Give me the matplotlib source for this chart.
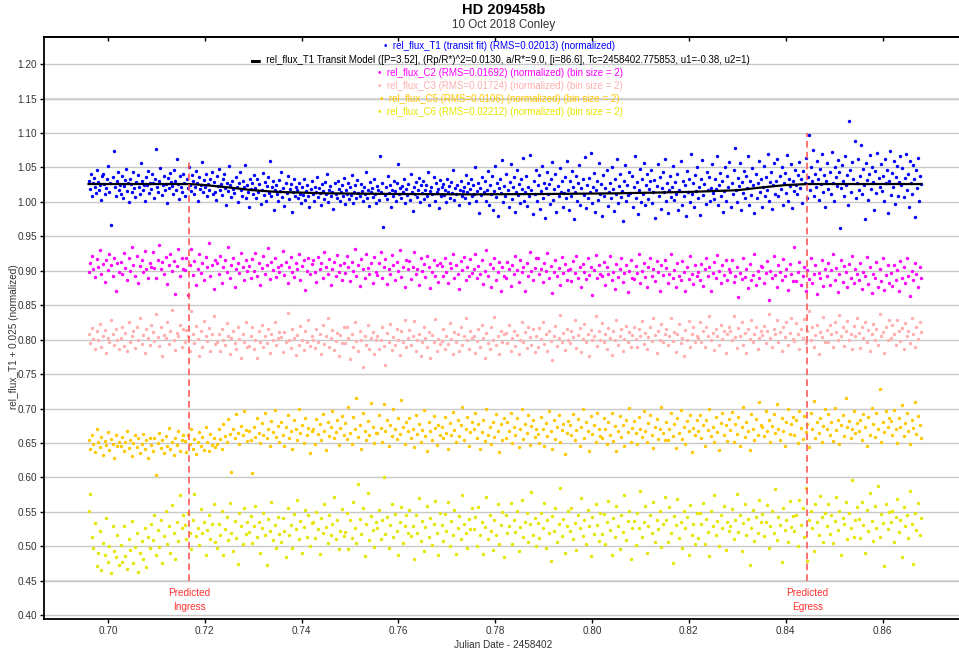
import numpy as np
import matplotlib.pyplot as plt

plt.rcParams['font.family'] = ['Liberation Sans', 'DejaVu Sans']

# observation window, JD - 2458402
t_start = 0.6960
t_end = 0.8680

# relative fluxes, in units of 0.001 (offsets already applied)
t1_flux = [
    1031, 1019, 1040, 1008, 1027, 1035, 1022, 1013, 1046, 1029, 1017, 1024, 1003, 1038, 1041, 1026, 1011, 1020, 1033, 1052,
    1015, 1028, 966, 1036, 1074, 1021, 1009, 1030, 1044, 1018, 1025, 1012, 1037, 1005, 1023, 1032, 1048, 1016, 1027, 1000,
    1034, 1026, 1014, 1043, 1020, 1007, 1029, 1039, 1022, 1011, 1056, 1031, 1018, 1025, 1002, 1036, 1024, 1045, 1013, 1028,
    1019, 1040, 1027, 1006, 1033, 1077, 1021, 1015, 1030, 1049, 1010, 1024, 1038, 1017, 1026, 998, 1035, 1020, 1042, 1029,
    1023, 1012, 1047, 1031, 1018, 1063, 1026, 1004, 1037, 1022, 1014, 1041, 1028, 1009, 1033, 1020, 1050, 1025, 1016, 1039,
    1030, 1011, 1022, 1045, 1027, 1001, 1036, 1019, 1025, 1058, 1014, 1032, 1021, 1040, 1008, 1026, 1017, 1034, 1044, 1012,
    1029, 1015, 1003, 1037, 1023, 1048, 1018, 1026, 1010, 1033, 1041, 1020, 996, 1028, 1016, 1052, 1024, 1007, 1031, 1019,
    1013, 1036, 1022, 1000, 1027, 1044, 1017, 1009, 1031, 1021, 1054, 1006, 1024, 1015, 992, 1034, 1019, 1028, 1011, 1039,
    1020, 1005, 1033, 1014, 1026, 997, 1018, 1042, 1010, 1029, 1001, 1023, 1036, 1013, 1060, 1008, 1021, 1031, 989, 1017,
    1025, 1011, 1002, 1032, 1016, 1043, 1007, 1020, 994, 1028, 1013, 1037, 1004, 1019, 1026, 985, 1015, 1034, 1009, 1022,
    1018, 1005, 1027, 1012, 998, 1021, 1010, 1033, 1003, 1016, 1024, 1008, 993, 1019, 1030, 1011, 1001, 1022, 1014, 1036,
    1007, 1020, 1013, 995, 1026, 1016, 1004, 1029, 1011, 1041, 1000, 1018, 1023, 1009, 1015, 990, 1027, 1012, 1006, 1031,
    1019, 1002, 1014, 1025, 1008, 1035, 997, 1017, 1012, 1028, 1004, 1021, 1010, 1039, 999, 1015, 1024, 1006, 1032, 1013,
    1009, 1026, 1016, 1001, 1022, 1011, 1043, 1005, 1018, 994, 1029, 1014, 1020, 1007, 1034, 1012, 998, 1023, 1017, 1003,
    1067, 1015, 1028, 963, 1010, 1021, 1004, 1037, 1013, 1025, 992, 1018, 1008, 1031, 1016, 1001, 1027, 1055, 1011, 1020,
    1006, 1023, 1014, 1033, 998, 1019, 1010, 1026, 1003, 1040, 1015, 987, 1021, 1012, 1029, 1007, 1017, 1035, 1000, 1024,
    1013, 1030, 1004, 1018, 1025, 1009, 1044, 996, 1016, 1022, 1011, 1036, 1002, 1027, 1014, 1019, 991, 1032, 1008, 1021,
    1026, 1010, 1017, 1000, 1034, 1015, 1023, 1006, 1029, 1013, 1047, 1003, 1020, 1011, 1025, 995, 1018, 1031, 1009, 1016,
    1022, 1005, 1039, 1014, 1027, 998, 1019, 1033, 1008, 1024, 1012, 1050, 1001, 1016, 1028, 984, 1020, 1010, 1036, 1015,
    1031, 1002, 1018, 1045, 996, 1024, 1011, 1038, 989, 1016, 1052, 1007, 1027, 980, 1020, 1034, 1013, 1061, 1000, 1023,
    1009, 1040, 1017, 992, 1029, 1055, 1004, 1021, 1036, 985, 1014, 1047, 1010, 1026, 998, 1033, 1019, 1064, 1002, 1015,
    1037, 994, 1022, 1008, 1068, 1018, 983, 1030, 1012, 1046, 1001, 1025, 1039, 990, 1016, 1052, 1006, 1028, 977, 1020,
    1043, 1011, 1026, 997, 1034, 1058, 1003, 1019, 1040, 986, 1023, 1009, 1049, 1015, 1030, 993, 1013, 1036, 1005, 1060,
    1018, 988, 1031, 1008, 1045, 1022, 975, 1014, 1038, 1001, 1027, 1053, 996, 1020, 1033, 1010, 1065, 991, 1024, 1006,
    1035, 1014, 1071, 999, 1022, 1042, 985, 1017, 1030, 1003, 1056, 1011, 1026, 980, 1039, 1008, 1020, 1047, 994, 1015,
    1028, 1005, 1050, 1019, 987, 1034, 1012, 1062, 998, 1023, 1041, 1007, 1016, 973, 1031, 1054, 1002, 1025, 1010, 1044,
    1013, 1037, 992, 1021, 1066, 1006, 1029, 982, 1018, 1048, 1000, 1033, 1011, 1057, 995, 1024, 1040, 1004, 1019, 1030,
    1046, 998, 1015, 1032, 976, 1023, 1055, 1009, 1036, 990, 1020, 1043, 1014, 1063, 1001, 1027, 984, 1017, 1038, 1007,
    1021, 1052, 1003, 1029, 1012, 1040, 988, 1017, 1059, 996, 1031, 1008, 1024, 979, 1045, 1015, 1034, 1000, 1069, 1011,
    1027, 993, 1039, 1016, 1050, 1005, 1022, 981, 1033, 1061, 1010, 1026, 997, 1044, 1018, 1036, 1002, 1020, 1055, 1013,
    1004, 1034, 1019, 1067, 995, 1025, 1042, 1008, 1030, 986, 1016, 1051, 1001, 1037, 1021, 1058, 992, 1028, 1012, 1046,
    1079, 1017, 1000, 1035, 1023, 1057, 989, 1029, 1013, 1045, 1006, 1038, 1020, 1066, 996, 1031, 1010, 1049, 1024, 984,
    1041, 1005, 1027, 1060, 1014, 1033, 993, 1022, 1052, 1009, 1036, 1018, 1070, 1001, 1029, 1044, 990, 1025, 1056, 1012,
    1031, 1062, 1008, 1037, 1019, 1050, 996, 1027, 1042, 1013, 1068, 1002, 1034, 1023, 1055, 991, 1030, 1016, 1047, 1025,
    1012, 1039, 1058, 1020, 1033, 998, 1045, 1027, 1064, 1006, 1036, 1097, 1018, 1051, 1030, 1075, 1009, 1041, 1022, 1060,
    1034, 1003, 1048, 1026, 1069, 1015, 1039, 992, 1030, 1056, 1019, 1043, 1011, 1072, 1028, 1001, 1050, 1036, 1023, 1061,
    1044, 962, 1020, 1053, 1031, 1008, 1066, 1025, 1039, 996, 1117, 1046, 1014, 1058, 1033, 1088, 1005, 1027, 1062, 1018,
    1037, 1083, 1011, 1048, 1024, 975, 1057, 1032, 1003, 1040, 1068, 1019, 1050, 1029, 989, 1045, 1013, 1071, 1035, 1022,
    1055, 1016, 1038, 1002, 1063, 1027, 1047, 984, 1031, 1074, 1010, 1042, 1021, 1059, 997, 1036, 1052, 1008, 1029, 1066,
    1024, 1049, 1007, 1035, 1070, 1018, 1041, 993, 1060, 1028, 1012, 1053, 1033, 978, 1046, 1020, 1064, 1001, 1038, 1026,
]

c2_flux = [
    898, 912, 921, 903, 891, 917, 906, 930, 895, 910, 884, 915, 901, 924, 908, 893, 919, 870, 911, 899,
    913, 896, 926, 904, 887, 918, 900, 935, 909, 892, 921, 882, 907, 915, 898, 929, 903, 889, 912, 906,
    927, 904, 889, 916, 938, 902, 913, 896, 920, 881, 909, 925, 900, 914, 866, 907, 931, 892, 918, 903,
    901, 919, 865, 908, 932, 894, 914, 879, 903, 925, 897, 911, 886, 920, 905, 940, 893, 909, 873, 916,
    911, 895, 922, 883, 906, 915, 899, 934, 890, 908, 919, 876, 903, 912, 897, 926, 905, 887, 916, 900,
    907, 889, 917, 900, 926, 893, 911, 880, 904, 921, 896, 908, 933, 888, 913, 901, 919, 891, 906, 898,
    909, 929, 894, 913, 882, 905, 920, 898, 891, 911, 903, 924, 886, 907, 915, 872, 900, 918, 895, 910,
    915, 898, 884, 920, 903, 911, 890, 928, 906, 895, 917, 879, 902, 913, 893, 923, 899, 908, 886, 912,
    897, 922, 906, 885, 913, 900, 932, 893, 909, 878, 917, 902, 890, 925, 904, 896, 911, 883, 920, 899,
    894, 911, 927, 889, 905, 917, 881, 902, 896, 923, 908, 887, 913, 900, 930, 891, 906, 876, 915, 903,
    914, 888, 905, 927, 895, 903, 879, 918, 900, 910, 891, 921, 906, 875, 899, 916, 893, 908, 884, 912,
    907, 892, 919, 899, 883, 912, 904, 925, 889, 909, 896, 874, 914, 901, 920, 887, 905, 893, 917, 897,
    902, 924, 889, 907, 896, 915, 881, 900, 930, 893, 910, 877, 904, 919, 887, 898, 913, 871, 906, 892,
    889, 913, 902, 878, 909, 895, 922, 901, 884, 915, 898, 906, 870, 911, 893, 927, 900, 887, 904, 918,
    918, 895, 903, 884, 911, 900, 926, 889, 907, 868, 898, 916, 892, 904, 879, 920, 897, 910, 886, 901,
    902, 885, 914, 897, 921, 890, 905, 876, 910, 899, 888, 918, 894, 906, 865, 901, 923, 889, 908, 896,
    893, 913, 880, 905, 896, 922, 887, 899, 873, 910, 891, 903, 918, 884, 897, 908, 869, 900, 915, 889,
    888, 907, 897, 924, 883, 900, 912, 891, 876, 906, 919, 893, 902, 885, 914, 898, 871, 909, 894, 916,
    904, 882, 896, 925, 890, 901, 876, 911, 893, 886, 914, 899, 870, 905, 888, 921, 895, 881, 908, 892,
    899, 887, 910, 878, 903, 918, 892, 906, 871, 897, 913, 889, 923, 900, 882, 908, 894, 916, 886, 902,
    899, 916, 884, 893, 905, 862, 897, 888, 918, 891, 903, 875, 910, 886, 894, 924, 880, 900, 889, 907,
    906, 883, 897, 914, 858, 900, 889, 921, 894, 877, 908, 898, 886, 917, 892, 903, 872, 910, 896, 885,
    934, 885, 898, 913, 879, 892, 906, 871, 901, 888, 919, 883, 895, 909, 866, 897, 890, 915, 878, 903,
    893, 912, 880, 901, 925, 887, 904, 869, 896, 916, 884, 907, 899, 876, 910, 890, 922, 882, 903, 895,
    886, 911, 874, 899, 893, 920, 881, 905, 868, 896, 889, 913, 877, 902, 885, 918, 872, 894, 908, 883,
    897, 878, 909, 886, 901, 871, 914, 890, 905, 882, 918, 893, 864, 900, 887, 911, 895, 876, 906, 889,
]

c3_flux = [
    808, 795, 817, 801, 786, 812, 799, 823, 790, 806, 814, 781, 803, 796, 828, 809, 792, 815, 800, 787,
    802, 819, 791, 810, 784, 825, 797, 806, 813, 788, 818, 799, 831, 794, 807, 780, 815, 803, 792, 822,
    811, 798, 837, 804, 791, 819, 776, 807, 802, 826, 794, 813, 843, 799, 785, 810, 805, 821, 789, 816,
    797, 814, 805, 783, 841, 809, 795, 820, 801, 776, 812, 790, 827, 806, 798, 817, 784, 808, 835, 794,
    797, 808, 783, 815, 800, 792, 824, 806, 779, 803, 812, 795, 787, 818, 801, 773, 809, 797, 826, 790,
    791, 806, 818, 786, 800, 774, 813, 797, 822, 789, 805, 795, 815, 781, 808, 799, 826, 792, 803, 811,
    804, 782, 811, 796, 839, 799, 788, 816, 803, 778, 807, 793, 820, 800, 785, 812, 797, 829, 791, 806,
    800, 788, 815, 797, 809, 779, 821, 794, 806, 832, 790, 803, 814, 785, 798, 810, 776, 807, 795, 819,
    795, 818, 802, 772, 809, 790, 825, 798, 784, 813, 800, 760, 806, 793, 821, 787, 803, 811, 779, 799,
    806, 786, 799, 818, 791, 764, 810, 797, 823, 785, 804, 793, 816, 800, 778, 812, 796, 828, 789, 802,
    814, 792, 805, 827, 783, 800, 809, 776, 796, 818, 802, 789, 811, 773, 807, 797, 830, 784, 801, 794,
    798, 815, 787, 806, 794, 824, 801, 779, 811, 796, 808, 783, 819, 792, 805, 831, 799, 786, 813, 803,
    806, 781, 798, 815, 790, 822, 803, 774, 810, 795, 787, 818, 800, 833, 792, 805, 779, 812, 796, 808,
    810, 795, 822, 784, 803, 813, 791, 807, 779, 800, 826, 797, 811, 788, 818, 804, 793, 815, 782, 806,
    789, 817, 801, 825, 794, 808, 783, 813, 798, 771, 806, 820, 791, 803, 836, 797, 810, 785, 815, 800,
    795, 812, 804, 829, 788, 807, 817, 782, 801, 823, 796, 809, 776, 814, 799, 805, 834, 791, 812, 800,
    824, 796, 809, 787, 817, 803, 778, 812, 799, 829, 793, 806, 815, 784, 801, 820, 797, 811, 789, 807,
    818, 801, 790, 815, 806, 827, 794, 810, 786, 804, 819, 798, 831, 807, 781, 812, 800, 823, 796, 809,
    816, 792, 805, 831, 798, 811, 782, 808, 823, 795, 803, 776, 814, 800, 827, 790, 809, 818, 797, 806,
    803, 826, 797, 812, 789, 818, 805, 834, 799, 810, 785, 816, 806, 792, 822, 801, 813, 780, 808, 819,
    812, 799, 835, 804, 788, 817, 806, 826, 793, 810, 781, 815, 801, 829, 796, 808, 819, 786, 803, 813,
    807, 820, 795, 813, 838, 802, 790, 816, 809, 828, 797, 811, 784, 819, 804, 825, 793, 810, 832, 801,
    798, 824, 809, 786, 816, 803, 830, 795, 812, 841, 800, 818, 790, 807, 822, 779, 811, 804, 833, 796,
    814, 797, 822, 808, 789, 826, 811, 799, 836, 805, 818, 791, 813, 827, 800, 809, 786, 820, 806, 831,
    810, 788, 819, 802, 826, 797, 814, 783, 808, 823, 800, 816, 792, 837, 805, 811, 780, 818, 799, 828,
    803, 821, 809, 793, 828, 812, 798, 817, 787, 824, 806, 813, 795, 832, 808, 790, 819, 801, 826, 811,
]

c5_flux = [
    655, 641, 662, 648, 637, 670, 651, 644, 659, 632, 653, 647, 666, 640, 656, 649, 628, 661, 645, 652,
    646, 659, 638, 652, 667, 643, 655, 631, 650, 661, 644, 657, 636, 649, 663, 641, 654, 629, 658, 647,
    639, 657, 603, 650, 664, 643, 654, 635, 660, 646, 672, 641, 651, 633, 658, 647, 668, 638, 655, 662,
    653, 637, 661, 648, 670, 642, 656, 634, 651, 666, 645, 659, 640, 674, 652, 638, 663, 647, 657, 644,
    649, 671, 656, 642, 678, 660, 651, 685, 663, 608, 670, 657, 692, 664, 648, 675, 661, 697, 669, 653,
    668, 655, 607, 673, 659, 686, 664, 650, 679, 661, 693, 657, 671, 646, 682, 666, 698, 659, 675, 652,
    680, 662, 645, 673, 690, 658, 667, 641, 684, 670, 655, 699, 664, 676, 650, 687, 661, 672, 636, 668,
    671, 649, 685, 663, 677, 654, 692, 668, 640, 680, 660, 674, 696, 657, 666, 683, 647, 672, 689, 662,
    679, 656, 703, 665, 648, 688, 671, 715, 659, 676, 642, 694, 668, 655, 682, 661, 708, 673, 650, 665,
    664, 690, 672, 651, 707, 668, 683, 645, 676, 660, 699, 670, 656, 687, 663, 712, 674, 648, 681, 667,
    686, 658, 671, 644, 691, 663, 677, 652, 669, 698, 660, 639, 680, 667, 655, 689, 672, 647, 676, 661,
    673, 657, 688, 665, 641, 679, 662, 695, 669, 651, 684, 660, 676, 702, 654, 671, 688, 645, 666, 680,
    670, 693, 657, 678, 642, 666, 684, 653, 700, 662, 674, 648, 681, 659, 692, 668, 637, 677, 655, 686,
    658, 681, 667, 694, 650, 673, 661, 687, 644, 670, 699, 656, 678, 664, 690, 647, 675, 683, 659, 671,
    663, 650, 688, 671, 645, 679, 660, 697, 667, 641, 684, 656, 673, 690, 652, 669, 678, 634, 664, 682,
    676, 661, 692, 654, 669, 685, 646, 673, 700, 658, 680, 667, 638, 689, 663, 676, 651, 694, 670, 660,
    657, 687, 670, 648, 681, 662, 694, 653, 675, 639, 668, 689, 659, 676, 645, 683, 666, 701, 651, 672,
    682, 664, 648, 688, 671, 659, 697, 667, 651, 679, 690, 662, 643, 674, 685, 656, 670, 703, 665, 654,
    680, 654, 671, 693, 660, 677, 643, 686, 665, 698, 656, 674, 649, 682, 668, 691, 637, 672, 661, 684,
    667, 690, 658, 676, 645, 683, 669, 700, 660, 674, 651, 688, 666, 640, 679, 694, 662, 676, 653, 685,
    669, 695, 652, 678, 663, 688, 646, 674, 703, 659, 681, 667, 640, 692, 671, 655, 685, 662, 709, 676,
    674, 660, 697, 668, 683, 651, 675, 692, 664, 706, 671, 654, 686, 668, 646, 680, 699, 663, 677, 688,
    661, 683, 650, 697, 672, 656, 689, 666, 678, 644, 694, 670, 711, 658, 680, 665, 687, 651, 675, 699,
    671, 692, 662, 680, 653, 701, 669, 684, 648, 676, 690, 660, 715, 674, 682, 657, 670, 696, 665, 679,
    668, 684, 655, 692, 673, 646, 688, 662, 701, 677, 659, 694, 670, 728, 651, 681, 666, 697, 674, 686,
    682, 662, 698, 671, 650, 686, 674, 705, 660, 679, 693, 667, 648, 684, 672, 710, 663, 689, 676, 657,
]

c6_flux = [
    551, 576, 513, 497, 534, 471, 490, 522, 466, 505, 488, 541, 478, 501, 461, 530, 494, 484, 517, 473,
    502, 478, 529, 486, 467, 511, 495, 537, 476, 499, 520, 463, 491, 508, 481, 526, 470, 514, 497, 532,
    509, 546, 487, 524, 499, 538, 476, 515, 552, 503, 530, 491, 560, 519, 482, 536, 508, 575, 527, 545,
    531, 510, 548, 520, 496, 539, 576, 515, 527, 502, 554, 519, 536, 488, 524, 545, 511, 533, 561, 506,
    498, 533, 516, 551, 487, 525, 542, 509, 563, 520, 494, 537, 512, 475, 548, 529, 503, 556, 518, 535,
    521, 544, 505, 530, 558, 513, 536, 491, 527, 549, 516, 473, 540, 522, 565, 509, 531, 497, 543, 518,
    507, 541, 522, 484, 555, 516, 531, 498, 547, 525, 568, 511, 537, 490, 528, 553, 513, 545, 501, 534,
    536, 512, 550, 525, 489, 541, 519, 562, 528, 505, 546, 517, 533, 571, 510, 538, 496, 523, 554, 515,
    521, 549, 496, 538, 512, 565, 527, 505, 591, 540, 518, 555, 486, 532, 578, 509, 544, 524, 499, 536,
    526, 553, 510, 539, 601, 518, 543, 497, 531, 562, 514, 547, 523, 488, 536, 557, 505, 529, 545, 520,
    553, 515, 529, 482, 546, 520, 570, 508, 537, 493, 528, 559, 514, 541, 502, 533, 566, 519, 487, 548,
    531, 508, 547, 522, 565, 500, 537, 516, 553, 489, 527, 544, 511, 574, 533, 519, 498, 540, 525, 556,
    525, 543, 500, 557, 517, 535, 489, 528, 572, 511, 546, 522, 495, 539, 516, 561, 504, 531, 550, 484,
    545, 519, 530, 563, 504, 538, 521, 551, 493, 528, 567, 513, 536, 548, 506, 532, 579, 517, 541, 500,
    534, 512, 548, 526, 563, 497, 538, 519, 479, 544, 523, 556, 507, 532, 585, 515, 540, 491, 529, 552,
    523, 556, 510, 534, 495, 546, 527, 570, 515, 539, 503, 553, 529, 486, 542, 518, 561, 531, 508, 548,
    518, 547, 503, 536, 566, 524, 488, 541, 513, 558, 530, 496, 545, 521, 574, 509, 537, 552, 482, 527,
    537, 502, 549, 526, 581, 514, 535, 558, 491, 530, 545, 519, 564, 507, 538, 525, 552, 499, 533, 571,
    539, 507, 557, 520, 476, 544, 531, 569, 512, 535, 498, 551, 526, 542, 487, 560, 517, 533, 503, 548,
    512, 548, 533, 563, 504, 540, 521, 486, 552, 529, 574, 516, 537, 500, 545, 527, 559, 495, 536, 522,
    529, 554, 511, 538, 576, 521, 546, 493, 534, 561, 516, 540, 473, 527, 553, 508, 543, 519, 567, 536,
    547, 515, 536, 560, 497, 529, 551, 520, 583, 509, 542, 531, 477, 555, 524, 539, 506, 566, 528, 544,
    522, 545, 500, 568, 531, 556, 514, 585, 479, 538, 552, 527, 494, 561, 535, 517, 573, 543, 506, 549,
    530, 561, 518, 546, 505, 537, 572, 524, 552, 488, 541, 533, 565, 511, 548, 526, 596, 513, 539, 557,
    540, 512, 564, 531, 490, 553, 522, 578, 537, 508, 559, 527, 588, 514, 547, 534, 471, 562, 525, 550,
    535, 552, 506, 543, 569, 521, 538, 484, 557, 529, 546, 512, 580, 532, 474, 549, 524, 563, 517, 541,
]

# fitted transit model for T1
model_t = [0.696, 0.7168, 0.720, 0.725, 0.730, 0.735, 0.745, 0.760, 0.775,
           0.790, 0.805, 0.820, 0.830, 0.835, 0.840, 0.8445, 0.868]
model_flux = [1.026, 1.026, 1.0245, 1.021, 1.017, 1.0145, 1.0125, 1.0115, 1.011,
              1.0115, 1.0125, 1.0145, 1.017, 1.021, 1.0245, 1.026, 1.026]

ingress = 0.7168
egress = 0.8445

labels = [
    'rel_flux_T1 (transit fit) (RMS=0.02013) (normalized)',
    'rel_flux_T1 Transit Model ([P=3.52], (Rp/R*)^2=0.0130, a/R*=9.0, [i=86.6], Tc=2458402.775853, u1=-0.38, u2=1)',
    'rel_flux_C2 (RMS=0.01692) (normalized) (bin size = 2)',
    'rel_flux_C3 (RMS=0.01724) (normalized) (bin size = 2)',
    'rel_flux_C5 (RMS=0.0106) (normalized) (bin size = 2)',
    'rel_flux_C6 (RMS=0.02212) (normalized) (bin size = 2)',
]

blue = '#0000ff'
magenta = '#ff00ff'
pink = '#ffafaf'
orange = '#ffc800'
yellow = '#e6e600'

fig = plt.figure(figsize=(9.59, 6.53), dpi=100)
ax = fig.add_axes([0.0459, 0.0521, 0.9541, 0.8908])

for vals, color in [(t1_flux, blue), (c2_flux, magenta), (c3_flux, pink),
                    (c5_flux, orange), (c6_flux, yellow)]:
    y = np.array(vals) / 1000
    t = np.linspace(t_start, t_end, len(y))
    ax.scatter(t, y, s=6, color=color, linewidths=0, zorder=3)

ax.plot(model_t, model_flux, color='black', lw=1.6, zorder=4)

# predicted ingress / egress markers
ax.vlines(ingress, 0.45, 1.058, color='#ff5a5a', lw=1.2, linestyles=(0, (4, 2.5)), zorder=5)
ax.vlines(egress, 0.45, 1.10, color='#ff5a5a', lw=1.2, linestyles=(0, (4, 2.5)), zorder=5)
ax.text(ingress, 0.4225, 'Predicted\nIngress', color='#ff3333', fontsize=7.2,
        ha='center', va='center', linespacing=1.45)
ax.text(egress, 0.4225, 'Predicted\nEgress', color='#ff3333', fontsize=7.2,
        ha='center', va='center', linespacing=1.45)

ax.set_xlim(0.6868, 0.8758)
ax.set_ylim(0.3946, 1.239)
ax.set_xticks(np.arange(0.70, 0.861, 0.02))
ax.set_yticks(np.arange(0.40, 1.201, 0.05))
ax.xaxis.set_major_formatter(plt.FormatStrFormatter('%.2f'))
ax.yaxis.set_major_formatter(plt.FormatStrFormatter('%.2f'))
ax.tick_params(axis='both', labelsize=7.2, labelcolor='#333333', length=3, width=1, pad=2)

ax.set_axisbelow(True)
ax.yaxis.grid(True, color='#c8c8c8', lw=1)
for y in [1.15, 0.45]:
    ax.axhline(y, color='#dcdcdc', lw=1.6, zorder=0)

top = ax.secondary_xaxis('top')
top.set_xticks(np.arange(0.70, 0.861, 0.02))
top.tick_params(direction='in', length=3, width=1, labeltop=False)
top.spines['top'].set_linewidth(1.3)

ax.spines['right'].set_visible(False)
for side in ['left', 'bottom', 'top']:
    ax.spines[side].set_linewidth(1.3)

fig.text(504 / 959, 1 - 10 / 653, 'HD 209458b', fontsize=10.5, fontweight='bold',
         ha='center', va='center')
fig.text(504 / 959, 1 - 25 / 653, '10 Oct 2018 Conley', fontsize=8.4,
         color='#333333', ha='center', va='center')
fig.text(503 / 959, 1 - 645 / 653, 'Julian Date - 2458402', fontsize=7.2,
         color='#333333', ha='center', va='center')
fig.text(14 / 959, 1 - 337 / 653, 'rel_flux_T1 + 0.025 (normalized)', fontsize=7.2,
         color='#333333', rotation=90, ha='center', va='center')

# legend lines, each centred above the plot
leg_colors = [blue, 'black', magenta, pink, orange, yellow]
leg_marks = ['\u2022', '\u25ac', '\u2022', '\u2022', '\u2022', '\u2022']
leg_y = [46, 60, 73, 86, 99, 112]
for lab, col, mk, yp in zip(labels, leg_colors, leg_marks, leg_y):
    fig.text(500 / 959, 1 - yp / 653, mk + '  ' + lab, fontsize=7.0, color=col,
             ha='center', va='center')

fig.savefig('out.png', dpi=100)
